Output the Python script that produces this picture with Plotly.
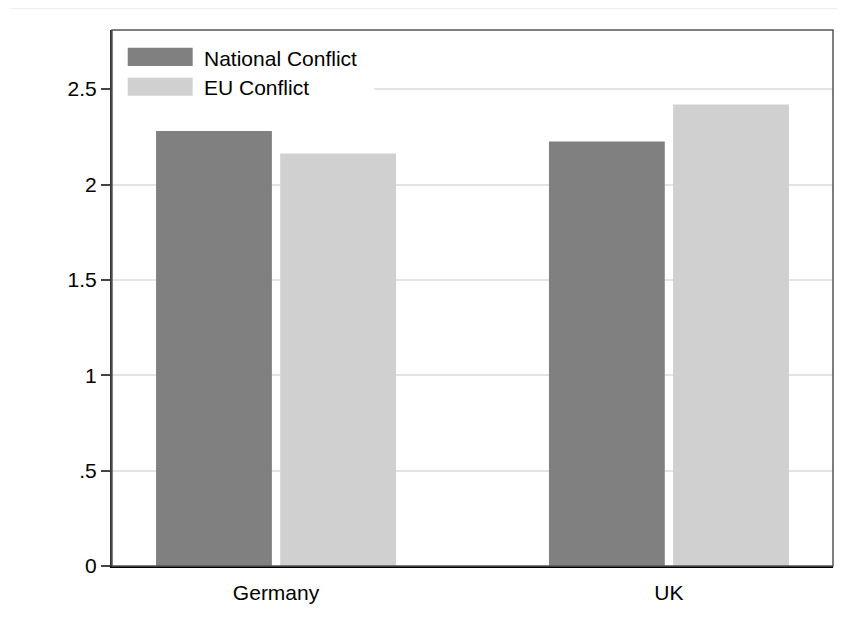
import plotly.graph_objects as go

categories = ["Germany", "UK"]
national_conflict = [2.28, 2.226]
eu_conflict = [2.163, 2.42]
ytick_vals = [0, 0.5, 1, 1.5, 2, 2.5]
ytick_text = ["0", ".5", "1", "1.5", "2", "2.5"]

W, H = 845, 619
OFF = 8  # page body margin
L, R, T, B = 112 - OFF, 833 - OFF, 30 - OFF, 566 - OFF

def px(x):
    return (x - OFF - L) / (R - L)

def py(y):
    return (B - (y - OFF)) / (B - T)

FONT = "Liberation Sans, Arial, sans-serif"

fig = go.Figure()
fig.add_trace(go.Bar(x=categories, y=national_conflict, name="National Conflict",
                     marker=dict(color="#808080", line=dict(width=0)), showlegend=False))
fig.add_trace(go.Bar(x=categories, y=eu_conflict, name="EU Conflict",
                     marker=dict(color="#d0d0d0", line=dict(width=0)), showlegend=False))

shapes = [
    dict(type="rect", xref="paper", yref="paper", x0=0, x1=px(374), y0=py(106), y1=1,
         fillcolor="white", line=dict(width=0), layer="above"),
    dict(type="rect", xref="paper", yref="paper", x0=px(127.7), x1=px(192.7), y0=py(66), y1=py(47.7),
         fillcolor="#808080", line=dict(width=0), layer="above"),
    dict(type="rect", xref="paper", yref="paper", x0=px(127.7), x1=px(192.7), y0=py(95.7), y1=py(77.7),
         fillcolor="#d0d0d0", line=dict(width=0), layer="above"),
    dict(type="rect", xref="paper", yref="paper", x0=0, x1=1, y0=0, y1=1,
         line=dict(color="#555555", width=1.5), fillcolor="rgba(0,0,0,0)", layer="above"),
    # faint outer graph-region edge at top
    dict(type="line", xref="paper", yref="paper", x0=px(10), x1=px(845), y0=py(8.5), y1=py(8.5),
         line=dict(color="#efefef", width=1.5), layer="above"),
]
annotations = [
    dict(xref="paper", yref="paper", x=px(204), y=py(58), text="National Conflict", showarrow=False,
         xanchor="left", yanchor="middle", xshift=-2, font=dict(family=FONT, size=21, color="black")),
    dict(xref="paper", yref="paper", x=px(204), y=py(87), text="EU Conflict", showarrow=False,
         xanchor="left", yanchor="middle", xshift=-2, font=dict(family=FONT, size=21, color="black")),
]

fig.update_layout(
    width=W, height=H,
    margin=dict(l=L, r=W - R, t=T, b=H - B, pad=0),
    paper_bgcolor="white", plot_bgcolor="white",
    barmode="group", bargap=0.368, bargroupgap=0.067,
    font=dict(family=FONT, size=21, color="black"),
    shapes=shapes, annotations=annotations,
    showlegend=False,
)
fig.update_xaxes(range=[-0.4175, 1.4175], showgrid=False, showline=True, linecolor="black", linewidth=1.5,
                 ticks="outside", ticklen=7, tickcolor="rgba(0,0,0,0)", tickfont=dict(size=21))
fig.update_yaxes(range=[0, 2.81], tickvals=ytick_vals, ticktext=ytick_text, showgrid=True,
                 gridcolor="#e4e4e4", gridwidth=1.5, zeroline=False, showline=True, linecolor="#333333",
                 linewidth=2, ticks="outside", ticklen=9, tickcolor="#444444", tickwidth=1.5,
                 tickfont=dict(size=21))

fig.write_html("out.html")
